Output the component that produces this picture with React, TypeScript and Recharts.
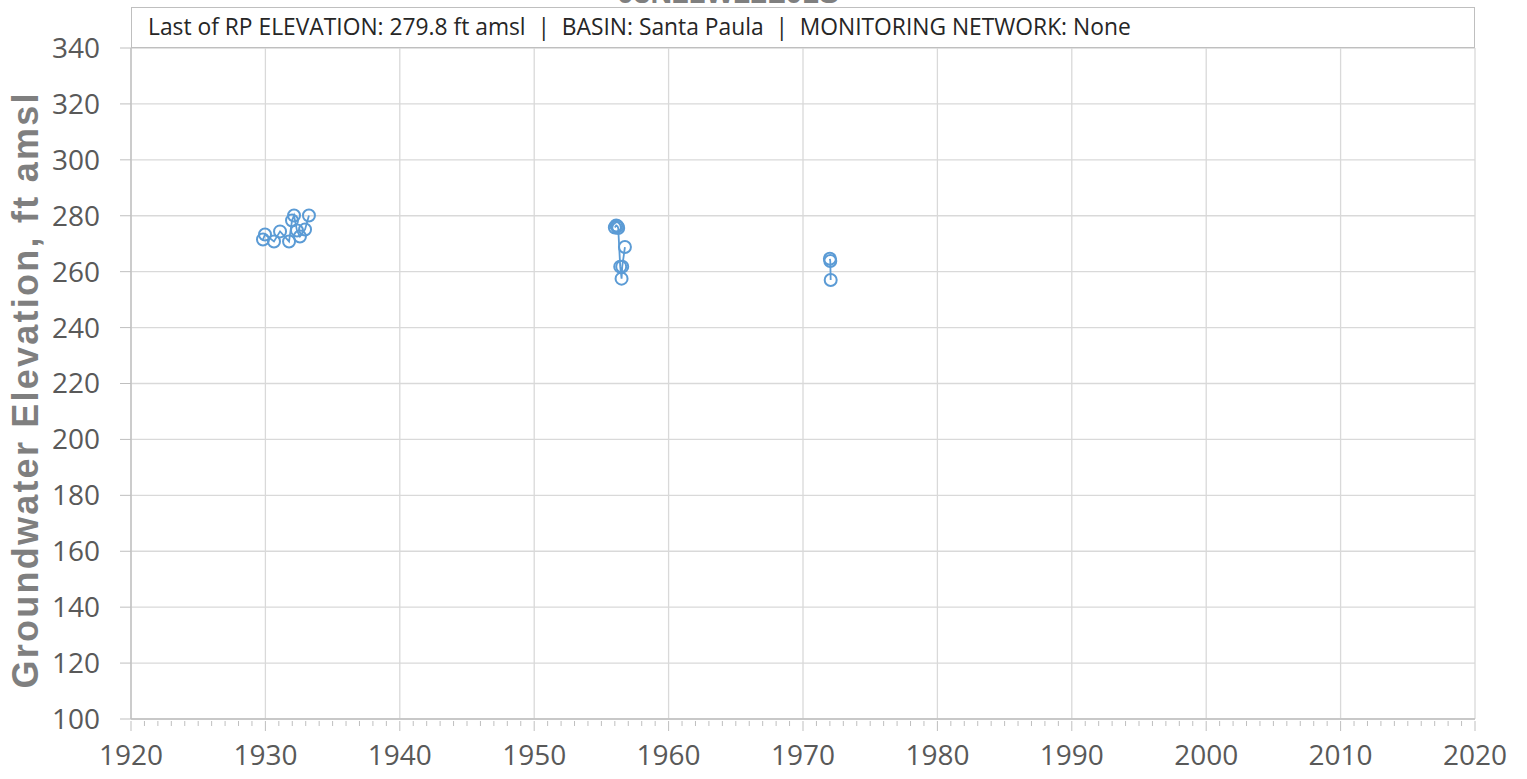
import { LineChart, Line, XAxis, YAxis, CartesianGrid } from "recharts";

// groundwater level readings, three survey periods
const years1 = [1929.82, 1929.97, 1930.64, 1931.09, 1931.76, 1931.98, 1932.13, 1932.35, 1932.57, 1932.95, 1933.24];
const levels1 = [271.5, 273.3, 270.8, 274.4, 270.8, 278.3, 280.1, 274.7, 272.6, 275.1, 280.1];

const years2 = [1956.0, 1956.1, 1956.2, 1956.25, 1956.4, 1956.5, 1956.55, 1956.75];
const levels2 = [275.8, 276.5, 276.2, 275.6, 261.8, 257.5, 261.8, 268.8];

const years3 = [1972.0, 1972.03, 1972.06];
const levels3 = [264.6, 263.8, 257.0];

const xTicks = [1920, 1930, 1940, 1950, 1960, 1970, 1980, 1990, 2000, 2010, 2020];
const yTicks = [100, 120, 140, 160, 180, 200, 220, 240, 260, 280, 300, 320, 340];

const title = "03N21W22L01S";
const infoText = "Last of RP ELEVATION: 279.8 ft amsl  |  BASIN: Santa Paula  |  MONITORING NETWORK: None";

const toRows = (ys: number[], vs: number[]) => ys.map((y, i) => ({ year: y, level: vs[i] }));

// nulls between periods break the line
const data = [
  ...toRows(years1, levels1),
  { year: 1945, level: null },
  ...toRows(years2, levels2),
  { year: 1965, level: null },
  ...toRows(years3, levels3),
];

const allTicks = Array.from({ length: 101 }, (_, i) => 1920 + i);

const BLUE = "#5B9BD5";
const GRID = "#d9d9d9";
const AXIS = "#bfbfbf";
const TEXT = "#595959";

const XTick = (props: any) => {
  const { x, y, payload } = props;
  const major = payload.value % 10 === 0;
  return (
    <g>
      <line x1={x} x2={x} y1={y} y2={y + (major ? 10 : 5)} stroke={AXIS} strokeWidth={1} />
      {major && (
        <text x={x} y={y + 44} textAnchor="middle" fill={TEXT} fontSize={28} fontFamily="Open Sans">
          {payload.value}
        </text>
      )}
    </g>
  );
};

const YLabel = () => (
  <text
    x={0}
    y={0}
    transform="translate(38, 391) rotate(-90)"
    textAnchor="middle"
    fill="#7f7f7f"
    fontSize={36}
    fontWeight="bold"
    fontFamily="Liberation Sans"
    textLength={595}
    lengthAdjust="spacing"
  >
    Groundwater Elevation, ft amsl
  </text>
);

export default function App() {
  return (
    <div style={{ position: "relative", width: 1527, height: 779, background: "#fff", overflow: "hidden" }}>
      <style>{`body{margin:0}`}</style>
      <LineChart width={1527} height={779} data={data} margin={{ top: 48, right: 52, bottom: 0, left: 0 }}>
        <CartesianGrid stroke={GRID} strokeWidth={1.3} verticalValues={xTicks} horizontalValues={yTicks} />
        <XAxis
          dataKey="year"
          type="number"
          domain={[1920, 2020]}
          ticks={allTicks}
          interval={0}
          height={60}
          axisLine={{ stroke: AXIS, strokeWidth: 1.3 }}
          tickLine={false}
          tickSize={0}
          tick={<XTick />}
        />
        <YAxis
          type="number"
          domain={[100, 340]}
          ticks={yTicks}
          interval={0}
          width={131}
          axisLine={{ stroke: AXIS, strokeWidth: 1.3 }}
          tickLine={{ stroke: AXIS }}
          tickSize={11}
          tickMargin={20}
          tick={{ fill: TEXT, fontSize: 28, fontFamily: "Open Sans" }}
          label={{ content: <YLabel /> }}
        />
        <Line
          dataKey="level"
          stroke={BLUE}
          strokeWidth={1.8}
          dot={{ r: 6, stroke: BLUE, strokeWidth: 2, fill: "none" }}
          connectNulls={false}
          isAnimationActive={false}
        />
      </LineChart>
      <div
        style={{
          position: "absolute",
          left: 728,
          top: -24,
          width: 0,
          display: "flex",
          justifyContent: "center",
          whiteSpace: "nowrap",
          font: "bold 30px 'Liberation Sans'",
          lineHeight: "34px",
          color: "#7f7f7f",
        }}
      >
        {title}
      </div>
      <div
        style={{
          position: "absolute",
          left: 131,
          top: 7,
          width: 1344,
          height: 41,
          boxSizing: "border-box",
          border: `1.5px solid ${AXIS}`,
          background: "#fff",
          font: "22.8px 'Open Sans'",
          color: "#262626",
          paddingLeft: 16,
          lineHeight: "38px",
          whiteSpace: "pre",
        }}
      >
        {infoText}
      </div>
    </div>
  );
}
